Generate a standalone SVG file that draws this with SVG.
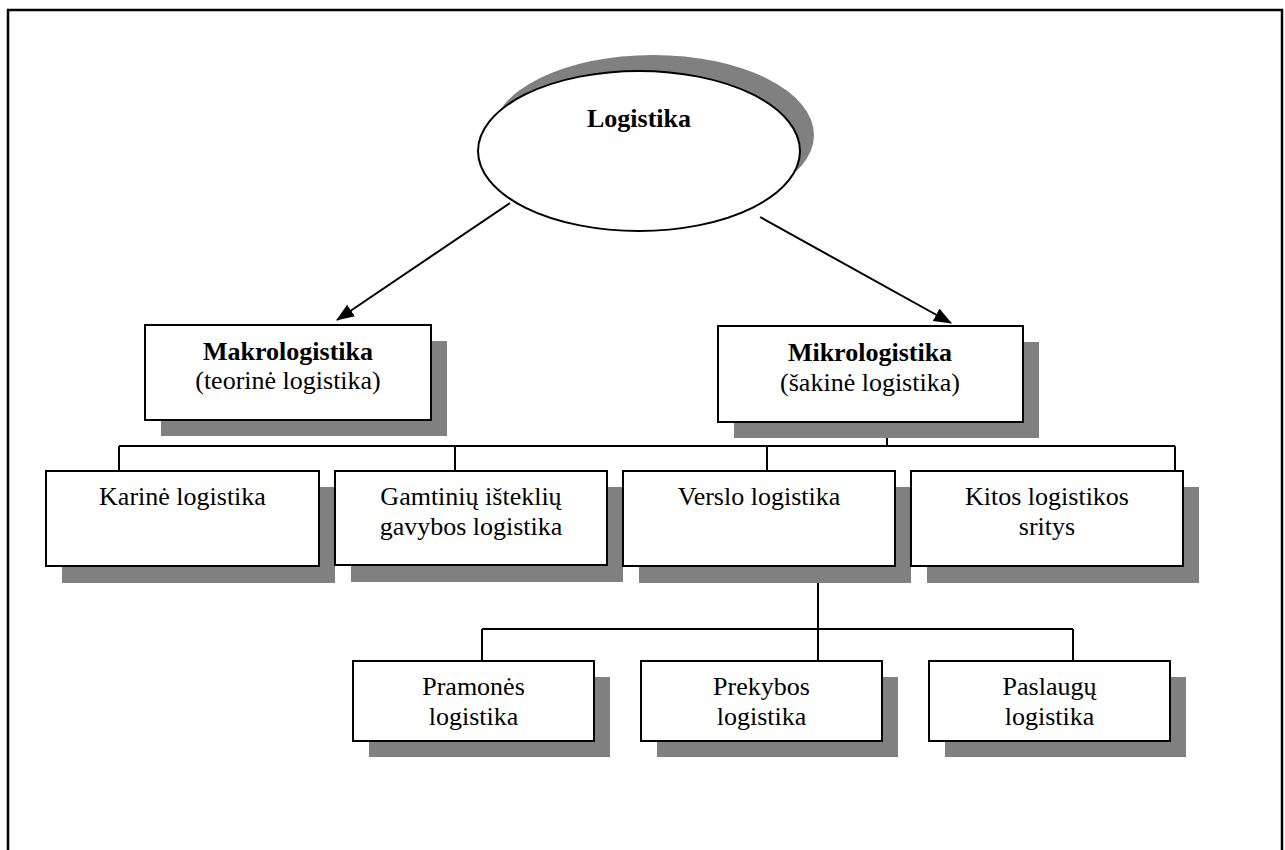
<svg xmlns="http://www.w3.org/2000/svg" width="1285" height="850" viewBox="0 0 1285 850">
  <style>
    .frame { fill: none; stroke: #000; stroke-width: 2.5; }
    .box { fill: #fff; stroke: #000; stroke-width: 2; }
    .shadow { fill: #808080; stroke: none; }
    .link { fill: none; stroke: #000; stroke-width: 2; }
    .arrow { fill: none; stroke: #000; stroke-width: 2; marker-end: url(#head); }
    text { font-family: "Liberation Serif", "Times New Roman", serif; font-size: 26px; fill: #000; text-anchor: middle; }
    .b { font-weight: bold; }
  </style>
  <defs>
    <marker id="head" markerUnits="userSpaceOnUse" markerWidth="18" markerHeight="14" refX="17" refY="7" orient="auto">
      <path d="M0,0 L18,7 L0,14 z" fill="#000"/>
    </marker>
  </defs>

  <rect width="1285" height="850" fill="#fff"/>
  <!-- outer page frame (bottom edge runs off the sheet) -->
  <rect class="frame" x="8" y="10" width="1274" height="860"/>

  <!-- connectors -->
  <g id="connectors">
    <line class="arrow" x1="510" y1="203" x2="337" y2="320"/>
    <line class="arrow" x1="760" y1="217" x2="951" y2="323"/>
    <!-- Mikrologistika branch bus -->
    <polyline class="link" points="887,422 887,446"/>
    <line class="link" x1="119" y1="446" x2="1175" y2="446"/>
    <line class="link" x1="119" y1="446" x2="119" y2="471"/>
    <line class="link" x1="455" y1="446" x2="455" y2="471"/>
    <line class="link" x1="767" y1="446" x2="767" y2="471"/>
    <line class="link" x1="1175" y1="446" x2="1175" y2="471"/>
    <!-- Verslo logistika branch bus -->
    <line class="link" x1="818" y1="566" x2="818" y2="661"/>
    <line class="link" x1="482" y1="629" x2="1073" y2="629"/>
    <line class="link" x1="482" y1="629" x2="482" y2="661"/>
    <line class="link" x1="1073" y1="629" x2="1073" y2="661"/>
  </g>

  <g id="logistika">
    <ellipse class="shadow" cx="653" cy="135" rx="161" ry="80"/>
    <ellipse class="box" cx="639" cy="151" rx="161" ry="80"/>
    <text class="b" x="639" y="127">Logistika</text>
  </g>

  <g id="makrologistika">
    <rect class="shadow" x="161" y="341" width="286" height="95"/>
    <rect class="box" x="145" y="325" width="286" height="95"/>
    <text class="b" x="288" y="360">Makrologistika</text>
    <text x="288" y="389">(teorinė logistika)</text>
  </g>

  <g id="mikrologistika">
    <rect class="shadow" x="734" y="342" width="305" height="96"/>
    <rect class="box" x="718" y="326" width="305" height="96"/>
    <text class="b" x="870" y="361">Mikrologistika</text>
    <text x="870" y="391">(šakinė logistika)</text>
  </g>

  <g id="karine">
    <rect class="shadow" x="62" y="487" width="273" height="96"/>
    <rect class="box" x="46" y="471" width="273" height="95"/>
    <text x="182.5" y="505">Karinė logistika</text>
  </g>

  <g id="gamtiniu">
    <rect class="shadow" x="351" y="487" width="272" height="95"/>
    <rect class="box" x="335" y="471" width="272" height="94"/>
    <text x="471" y="505">Gamtinių išteklių</text>
    <text x="471" y="535">gavybos logistika</text>
  </g>

  <g id="verslo">
    <rect class="shadow" x="639" y="487" width="272" height="96"/>
    <rect class="box" x="623" y="471" width="272" height="95"/>
    <text x="759" y="505">Verslo logistika</text>
  </g>

  <g id="kitos">
    <rect class="shadow" x="927" y="487" width="272" height="96"/>
    <rect class="box" x="911" y="471" width="272" height="95"/>
    <text x="1047" y="505">Kitos logistikos</text>
    <text x="1047" y="535">sritys</text>
  </g>

  <g id="pramones">
    <rect class="shadow" x="369" y="677" width="241" height="80"/>
    <rect class="box" x="353" y="661" width="241" height="80"/>
    <text x="473.5" y="695">Pramonės</text>
    <text x="473.5" y="725">logistika</text>
  </g>

  <g id="prekybos">
    <rect class="shadow" x="657" y="677" width="241" height="80"/>
    <rect class="box" x="641" y="661" width="241" height="80"/>
    <text x="761.5" y="695">Prekybos</text>
    <text x="761.5" y="725">logistika</text>
  </g>

  <g id="paslaugu">
    <rect class="shadow" x="945" y="677" width="241" height="80"/>
    <rect class="box" x="929" y="661" width="241" height="80"/>
    <text x="1049.5" y="695">Paslaugų</text>
    <text x="1049.5" y="725">logistika</text>
  </g>
</svg>
